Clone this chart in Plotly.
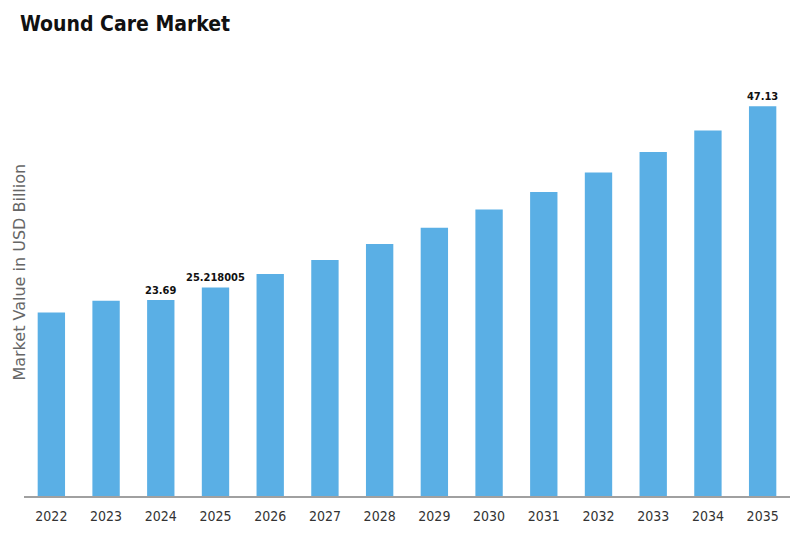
import plotly.graph_objects as go

# Market values (USD billion)
years = ["2022", "2023", "2024", "2025", "2026", "2027", "2028",
         "2029", "2030", "2031", "2032", "2033", "2034", "2035"]
values = [22.2, 23.6, 23.69, 25.218005, 26.84, 28.53, 30.46,
          32.42, 34.64, 36.77, 39.1, 41.6, 44.2, 47.13]
labels = ["", "", "23.69", "25.218005", "", "", "",
          "", "", "", "", "", "", "47.13"]

narrow = "DejaVu Sans Condensed, Liberation Sans Narrow, sans-serif"

fig = go.Figure(go.Bar(
    x=years, y=values, text=labels,
    textposition="outside", cliponaxis=False, constraintext="none",
    textfont=dict(family=narrow, size=11, color="#111111", weight="bold"),
    marker=dict(color="#5aafe5", line=dict(width=0)),
))

# page body adds an 8px offset, margins compensate for it
fig.update_layout(
    width=800, height=533,
    margin=dict(l=16, r=18, t=91, b=45),
    plot_bgcolor="white", paper_bgcolor="white",
    bargap=0.5,
    showlegend=False,
    title=dict(text="<b>Wound Care Market</b>", x=0.015, xanchor="left",
               y=0.97, yanchor="middle",
               font=dict(family=narrow, size=21, color="#111111")),
    xaxis=dict(showgrid=False, showline=True, linecolor="#a0a0a0", linewidth=2,
               ticks="", automargin=False, ticklabelstandoff=6,
               tickfont=dict(family=narrow, size=14, color="#333333")),
    yaxis=dict(range=[0, 48], showgrid=False, showticklabels=False,
               zeroline=False, showline=False, automargin=False),
)

fig.add_annotation(text="Market Value in USD Billion", textangle=-90,
                   xref="paper", yref="paper", x=0, y=0.564,
                   xanchor="left", xshift=-16, showarrow=False,
                   font=dict(family="DejaVu Sans, sans-serif",
                             size=16, color="#666666"))

fig.write_html("out.html")
